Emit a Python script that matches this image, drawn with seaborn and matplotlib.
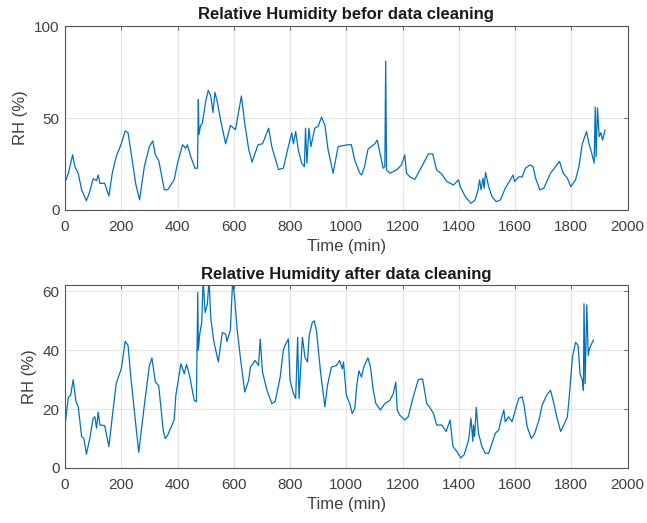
import numpy as np
import pandas as pd
import matplotlib
matplotlib.use("Agg")
import matplotlib.pyplot as plt
import seaborn as sns

# RH before cleaning
t_before = [0, 12, 27, 35, 47, 59, 76, 88, 100, 112, 118, 124, 141, 156, 168, 182, 200,
            214, 224, 235, 251, 265, 282, 300, 312, 321, 333, 353, 365, 388, 400, 418,
            429, 435, 447, 462, 471, 474, 476, 482, 488, 500, 509, 518, 526, 533, 541,
            553, 571, 588, 606, 627, 639, 653, 665, 686, 702, 724, 735, 759, 776, 794,
            806, 812, 820, 829, 841, 851, 855, 860, 867, 874, 888, 900, 912, 924, 935,
            953, 971, 1006, 1018, 1030, 1048, 1054, 1065, 1077, 1089, 1101, 1110, 1117,
            1131, 1137, 1140, 1143, 1155, 1179, 1196, 1208, 1214, 1226, 1244, 1262, 1280,
            1292, 1307, 1321, 1339, 1357, 1381, 1399, 1405, 1423, 1443, 1458, 1467, 1474,
            1479, 1486, 1490, 1495, 1506, 1518, 1533, 1548, 1565, 1583, 1593, 1598, 1613,
            1625, 1637, 1652, 1664, 1673, 1688, 1702, 1726, 1744, 1758, 1771, 1786, 1798,
            1815, 1827, 1839, 1854, 1863, 1871, 1881, 1885, 1888, 1893, 1899, 1905, 1911,
            1920]
rh_before = [15, 20, 30, 23.6, 20, 11, 5, 10, 17, 16, 19, 14.5, 14.5, 7.6, 20, 29, 36,
             43, 42, 31, 14.5, 5.5, 23.6, 34.5, 37.6, 30, 27, 11, 11, 16.4, 25.5, 35.5,
             33.6, 35.5, 29, 22.7, 22.7, 60, 41, 46, 47, 59, 65, 62, 53, 64, 59,
             49, 36, 46, 43.6, 62, 47, 33, 26, 35.5, 36, 44.5, 34.5, 22, 22.7, 34.5,
             42, 36, 42.7, 33, 25.5, 23.6, 44.5, 25.5, 44.5, 34.5, 44.5, 45.5, 50.5, 46, 33,
             20, 34.5, 35.5, 35.5, 27, 20, 19, 23.6, 33, 34.5, 36, 38, 33,
             22.7, 23.6, 81, 21.8, 20, 21.8, 24.5, 30, 20, 18, 16.7, 21.8, 27,
             30.5, 30.5, 21.8, 19.6, 15.5, 13.6, 16.4, 12.7, 7.3, 3.6, 5.5, 10, 16.4,
             11, 17.3, 11.8, 20.4, 12.7, 7.3, 4.5, 5.5, 11.8, 16.4, 19, 15.5, 18,
             18, 22.7, 24.5, 23.6, 17.3, 11, 11.8, 20, 23.6, 26.4, 20, 17.3, 12.7,
             16.4, 23.6, 36, 42.7, 36, 31.8, 25.5, 56, 29, 55.5, 40, 42, 38,
             43.6]

# RH after cleaning
t_after = [0, 12, 20, 29, 39, 47, 59, 67, 76, 88, 100, 106, 112, 118, 124, 141, 156, 168,
           182, 200, 214, 224, 235, 251, 262, 282, 300, 309, 321, 333, 349, 356, 365,
           388, 394, 412, 424, 432, 444, 459, 467, 472, 474, 479, 486, 491, 498, 506,
           512, 518, 529, 545, 559, 571, 576, 588, 596, 604, 612, 624, 639, 653, 659,
           676, 688, 694, 702, 718, 735, 747, 765, 776, 782, 788, 794, 800, 812, 820,
           827, 832, 844, 853, 862, 868, 879, 886, 894, 909, 924, 933, 947, 965, 976,
           986, 990, 1000, 1012, 1021, 1030, 1038, 1045, 1054, 1062, 1077, 1086, 1095,
           1105, 1121, 1137, 1155, 1167, 1176, 1181, 1190, 1208, 1220, 1238, 1256, 1271,
           1286, 1295, 1310, 1321, 1339, 1355, 1369, 1379, 1393, 1407, 1419, 1435, 1443,
           1450, 1452, 1456, 1462, 1470, 1482, 1494, 1506, 1518, 1530, 1542, 1550, 1560,
           1565, 1577, 1589, 1601, 1613, 1625, 1631, 1643, 1658, 1670, 1685, 1696, 1712,
           1726, 1738, 1748, 1762, 1776, 1786, 1792, 1804, 1815, 1824, 1831, 1839, 1843,
           1845, 1849, 1855, 1860, 1864, 1869, 1879]
rh_after = [14.6, 24, 24.7, 30, 22.5, 20.8, 10.7, 10, 4.7, 10, 16.9, 17.4, 13.5, 19, 14.6,
            14.4, 7.3, 17.4, 28.7, 33.7, 43, 41.6, 29.8, 15.2, 5.3, 21.3, 34.8, 37.4, 29.2,
            28, 12.9, 10, 11.2, 16.3, 24.7, 35.4, 32, 35.2, 30.9, 23, 22.5, 59.6, 40, 45.5,
            49.4, 64, 52.8, 55.6, 64, 51, 43, 36, 46, 45.5, 43, 47, 64, 56.7, 47, 37,
            25.8, 29.8, 34.3, 36.5, 34.8, 43.8, 32.6, 26.4, 21.9, 22.5, 30.9, 40, 41.6,
            42.7, 43.8, 29.8, 25.3, 23.6, 44.4, 23.6, 44.4, 37.6, 36, 45, 49.4, 50, 46.6,
            32, 20.8, 28, 34.3, 34.8, 36.5, 33.7, 36, 24.7, 21.9, 18.5, 20.2, 28.7, 33,
            30.9, 34.3, 37.4, 34.3, 27, 21.9, 19.7, 21.9, 23, 25.3, 29.2, 19.7, 18, 16.3,
            17.4, 24.2, 30, 30.3, 21.9, 20.8, 18.5, 14.6, 14.6, 12.4, 16.3, 7.3, 5.6, 3.4,
            4.5, 9.6, 16.9, 9, 14.6, 10.7, 20.6, 11.8, 7.3, 5, 5, 8.4, 11.8, 12.9, 16.3,
            19.7, 15.7, 17.4, 15.7, 19.7, 23.6, 24.2, 21.9, 14, 10, 11.8, 16.3, 21.3, 24.7,
            26.4, 21.9, 17.4, 12.4, 15.2, 17.4, 23.6, 37.6, 42.7, 41.6, 32, 29.8, 26.4,
            55.8, 28.7, 55.4, 38.2, 40.4, 41.6, 43.5]

df_before = pd.DataFrame({"Time": t_before, "RH": rh_before})
df_after = pd.DataFrame({"Time": t_after, "RH": rh_after})

sns.set_style("white")
plt.rcParams['font.family'] = ['Liberation Sans', 'DejaVu Sans']

fig = plt.figure(figsize=(6.47, 5.23), dpi=100)
ax1 = fig.add_axes([0.1005, 0.5985, 0.8695, 0.3515])
ax2 = fig.add_axes([0.1005, 0.1052, 0.8695, 0.3490])

line_color = "#0072BD"
txt = "#404040"

panels = [
    (ax1, df_before, "Relative Humidity befor data cleaning", (0, 100), [0, 50, 100]),
    (ax2, df_after, "Relative Humidity after data cleaning", (0, 62), [0, 20, 40, 60]),
]

for ax, df, title, ylim, yticks in panels:
    sns.lineplot(data=df, x="Time", y="RH", ax=ax, color=line_color,
                 linewidth=0.9, sort=False, estimator=None)
    ax.set_xlim(0, 2000)
    ax.set_ylim(*ylim)
    ax.set_xticks(range(0, 2001, 200))
    ax.set_yticks(yticks)
    ax.grid(True, color="#e6e6e6", linewidth=0.8)
    ax.set_axisbelow(True)
    ax.tick_params(direction="in", length=3, width=0.6, colors="#555555", labelsize=11,
                   top=True, right=True, labelcolor=txt)
    ax.tick_params(axis="x", pad=7)
    ax.tick_params(axis="y", pad=4)
    for s in ax.spines.values():
        s.set_color("#555555")
        s.set_linewidth(0.8)
    ax.set_title(title, fontsize=12, fontweight="bold", color="#1a1a1a", pad=5)
    ax.set_xlabel("Time (min)", fontsize=12, color=txt, labelpad=4)
    ax.set_ylabel("RH (%)", fontsize=12, color=txt, labelpad=4)

fig.savefig("out.png", dpi=100)
